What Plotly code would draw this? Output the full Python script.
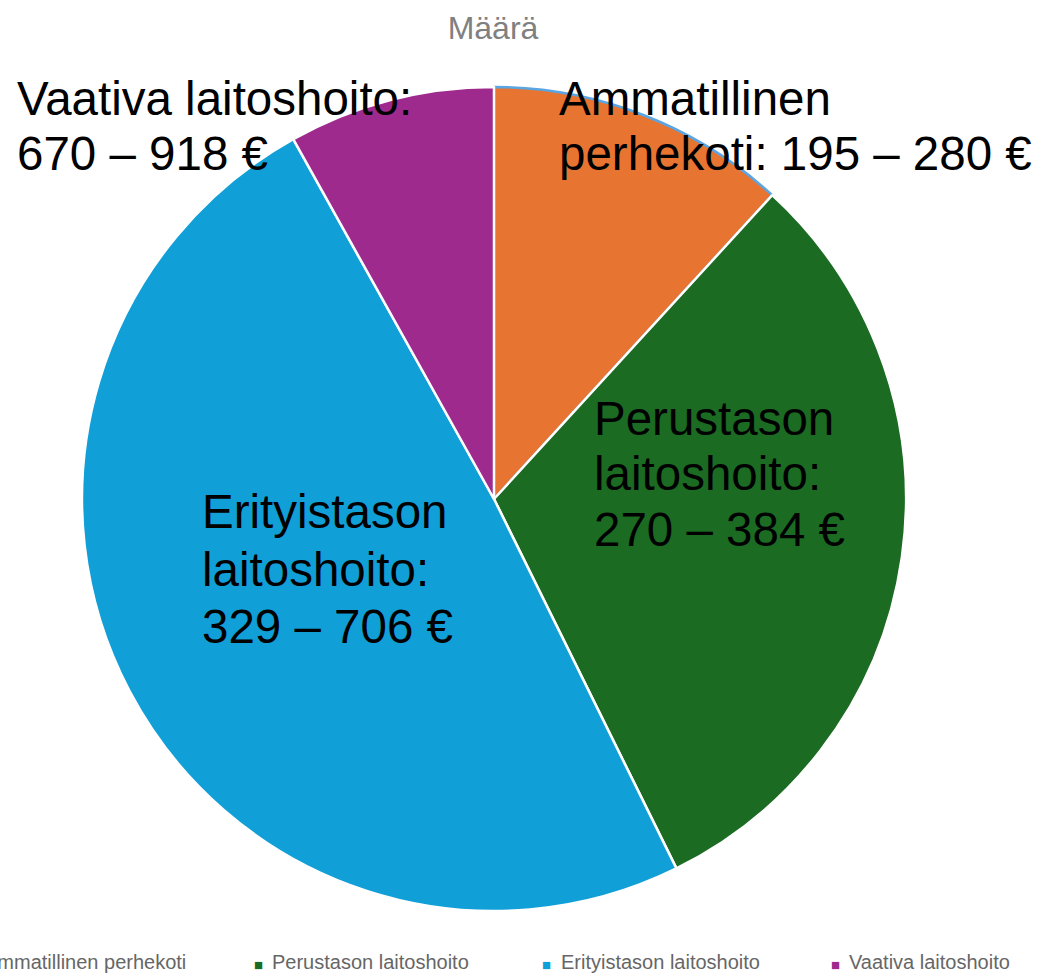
import plotly.graph_objects as go

W, H = 1043, 976

# ---- data ----
labels = ["Ammatillinen perhekoti", "Perustason laitoshoito",
          "Erityistason laitoshoito", "Vaativa laitoshoito"]
values = [11.8, 30.9, 49.2, 8.1]
colors = ["#E87431", "#1B6B23", "#119FD8", "#9E2A8E"]
label_lines = [
    ["Ammatillinen", "perhekoti: 195 – 280 €"],
    ["Perustason", "laitoshoito:", "270 – 384 €"],
    ["Erityistason", "laitoshoito:", "329 – 706 €"],
    ["Vaativa laitoshoito:", "670 – 918 €"],
]
title_text = "Määrä"

# ---- layout helpers (pixel -> paper) ----
def px(x):
    return x / W

def py(y):
    return 1 - y / H

cx, cy, r = 494, 499, 412

fig = go.Figure(go.Pie(
    labels=labels,
    values=values,
    sort=False,
    direction="clockwise",
    rotation=0,
    textinfo="none",
    marker=dict(colors=colors,
                line=dict(color=["#5AA5E2", "white", "white", "white"],
                          width=[2.5, 2.5, 2.5, 2.5])),
    domain=dict(x=[px(cx - r), px(cx + r)], y=[py(cy + r), py(cy - r)]),
    showlegend=False,
))

annotations = []
# slice labels: (left x, first baseline, line spacing)
label_pos = [(557, 117, 55), (592, 437, 55.5), (200, 530, 57.5), (15, 117, 55)]
fs = 47.5
for lines, (lx, b0, sp) in zip(label_lines, label_pos):
    for i, t in enumerate(lines):
        annotations.append(dict(
            text=t, x=px(lx), y=py(b0 + i * sp - 18.5), xref="paper", yref="paper",
            xanchor="left", yanchor="middle", showarrow=False,
            font=dict(family="Liberation Sans, Arial", size=fs, color="black")))

# custom legend row
text_left0 = 272 - 288.5
for i, (lab, col) in enumerate(zip(labels, colors)):
    tx = text_left0 + i * 288.5
    annotations.append(dict(
        text="■", x=px(tx - 14), y=py(964), xref="paper", yref="paper",
        xanchor="center", yanchor="middle", showarrow=False,
        font=dict(family="Liberation Sans, Arial", size=15, color=col)))
    annotations.append(dict(
        text=lab, x=px(tx - 2), y=py(962), xref="paper", yref="paper",
        xanchor="left", yanchor="middle", showarrow=False,
        font=dict(family="Liberation Sans Narrow, Liberation Sans, Arial", size=20, color="#666666")))

fig.update_layout(
    width=W, height=H,
    margin=dict(l=0, r=0, t=0, b=0),
    paper_bgcolor="white",
    plot_bgcolor="white",
    title=dict(text=title_text, x=493 / W, xanchor="center", y=1 - 28 / H, yanchor="middle",
               font=dict(family="Liberation Sans, Arial", size=32, color="#808080")),
    annotations=annotations,
)

fig.write_html("out.html", config={"displayModeBar": False},
               post_script="document.body.style.margin='0px';")
